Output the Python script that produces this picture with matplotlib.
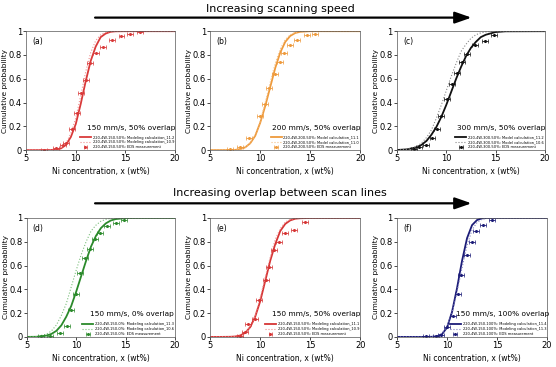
import matplotlib
matplotlib.use('Agg')
import matplotlib.pyplot as plt

# Common x grid for the modelled CDF curves (Ni wt%)
x_grid = [5, 6, 7, 7.5, 8, 8.5, 9, 9.5, 10, 10.5, 11, 11.5, 12, 12.5, 13, 13.5, 14, 15, 16, 20]

# Modelled curves (solid and dotted per panel)
a_solid = [0, 0, 0.0002, 0.001, 0.004, 0.014, 0.043, 0.11, 0.22, 0.39, 0.58, 0.75, 0.87, 0.95, 0.98, 0.995, 0.999, 1, 1, 1]
a_dot = [0, 0, 0.0003, 0.001, 0.005, 0.018, 0.055, 0.14, 0.27, 0.46, 0.66, 0.82, 0.92, 0.97, 0.99, 0.998, 1, 1, 1, 1]
b_solid = [0, 0, 0.0006, 0.002, 0.008, 0.023, 0.057, 0.12, 0.23, 0.37, 0.53, 0.69, 0.82, 0.91, 0.96, 0.985, 0.995, 1, 1, 1]
b_dot = [0, 0, 0.0005, 0.002, 0.007, 0.023, 0.06, 0.13, 0.24, 0.40, 0.57, 0.73, 0.85, 0.93, 0.97, 0.99, 0.997, 1, 1, 1]
c_solid = [0.001, 0.006, 0.024, 0.045, 0.078, 0.13, 0.195, 0.28, 0.38, 0.49, 0.60, 0.70, 0.79, 0.86, 0.91, 0.95, 0.97, 0.993, 0.999, 1]
c_dot = [0, 0.006, 0.03, 0.06, 0.106, 0.17, 0.27, 0.38, 0.5, 0.62, 0.73, 0.83, 0.89, 0.94, 0.97, 0.986, 0.994, 0.999, 1, 1]
d_solid = [0, 0.001, 0.011, 0.025, 0.051, 0.097, 0.17, 0.26, 0.38, 0.51, 0.64, 0.76, 0.85, 0.915, 0.955, 0.979, 0.991, 0.999, 1, 1]
d_dot = [0, 0.003, 0.023, 0.05, 0.10, 0.18, 0.28, 0.42, 0.56, 0.69, 0.80, 0.89, 0.94, 0.973, 0.989, 0.996, 0.999, 1, 1, 1]
e_solid = [0, 0, 0.001, 0.0035, 0.012, 0.034, 0.082, 0.17, 0.30, 0.47, 0.64, 0.78, 0.89, 0.95, 0.98, 0.994, 0.998, 1, 1, 1]
e_dot = [0, 0, 0.0005, 0.003, 0.012, 0.035, 0.087, 0.18, 0.33, 0.5, 0.67, 0.82, 0.91, 0.966, 0.988, 0.997, 1, 1, 1, 1]
f_solid = [0, 0, 0, 0, 0, 0.001, 0.005, 0.023, 0.079, 0.21, 0.41, 0.64, 0.83, 0.94, 0.983, 0.997, 1, 1, 1, 1]
f_dot = [0, 0, 0, 0, 0.0005, 0.002, 0.008, 0.029, 0.085, 0.20, 0.38, 0.58, 0.77, 0.90, 0.963, 0.99, 0.998, 1, 1, 1]

# EDS measurements
a_mx = [6.8, 8.0, 8.7, 9.0, 9.6, 10.1, 10.5, 11.0, 11.4, 12.0, 12.7, 13.6, 14.6, 15.5, 16.5]
a_my = [0.005, 0.015, 0.04, 0.06, 0.18, 0.31, 0.48, 0.59, 0.73, 0.82, 0.87, 0.93, 0.96, 0.98, 0.99]
b_mx = [7.0, 8.0, 8.9, 10.0, 10.5, 10.9, 11.5, 12.0, 12.4, 13.0, 13.7, 14.7, 15.5]
b_my = [0.01, 0.03, 0.10, 0.29, 0.39, 0.52, 0.64, 0.74, 0.82, 0.88, 0.93, 0.97, 0.98]
c_mx = [6.7, 7.2, 7.9, 8.6, 9.1, 9.5, 10.1, 10.6, 11.1, 11.6, 12.1, 12.9, 13.9, 14.8]
c_my = [0.01, 0.03, 0.04, 0.10, 0.18, 0.29, 0.43, 0.56, 0.65, 0.74, 0.81, 0.88, 0.92, 0.97]
d_mx = [6.4, 7.4, 8.4, 9.1, 9.5, 10.0, 10.4, 10.9, 11.4, 11.9, 12.4, 13.1, 14.0, 14.8]
d_my = [0.005, 0.01, 0.03, 0.09, 0.23, 0.36, 0.54, 0.66, 0.74, 0.82, 0.87, 0.93, 0.96, 0.98]
e_mx = [8.0, 8.5, 8.8, 9.5, 9.9, 10.6, 10.9, 11.4, 11.9, 12.5, 13.4, 14.5]
e_my = [0.01, 0.04, 0.11, 0.15, 0.31, 0.48, 0.59, 0.73, 0.80, 0.87, 0.90, 0.97]
f_mx = [7.9, 8.9, 9.4, 10.0, 10.6, 11.1, 11.4, 12.0, 12.5, 12.9, 13.6, 14.5]
f_my = [0.005, 0.01, 0.02, 0.08, 0.18, 0.36, 0.52, 0.69, 0.80, 0.89, 0.94, 0.98]

panel_tags = ['(a)', '(b)', '(c)', '(d)', '(e)', '(f)']
conditions = ['150 mm/s, 50% overlap', '200 mm/s, 50% overlap', '300 mm/s, 50% overlap',
              '150 mm/s, 0% overlap', '150 mm/s, 50% overlap', '150 mm/s, 100% overlap']
legend_labels = [
    ['220-4W-150-50%: Modeling calculation_11.2', '220-4W-150-50%: Modeling calculation_10.9', '220-4W-150-50%: EDS measurement'],
    ['220-4W-200-50%: Model calculation_11.1', '220-4W-200-50%: Model calculation_11.0', '220-4W-200-50%: EDS measurement'],
    ['220-4W-300-50%: Model calculation_11.2', '220-4W-300-50%: Model calculation_10.6', '220-4W-300-50%: EDS measurement'],
    ['220-4W-150-0%: Modeling calculation_11.3', '220-4W-150-0%: Modeling calculation_10.6', '220-4W-150-0%: EDS measurement'],
    ['220-4W-150-50%: Modeling calculation_11.1', '220-4W-150-50%: Modeling calculation_10.9', '220-4W-150-50%: EDS measurement'],
    ['220-4W-150-100%: Modeling calculation_11.4', '220-4W-150-100%: Modeling calculation_11.3', '220-4W-150-100%: EDS measurement'],
]
solid_colors = ['#d93a3a', '#ee9a3c', '#111111', '#2b8a2b', '#d63535', '#1c1c78']
dot_colors = ['#f09090', '#f4c088', '#888888', '#7cbf7c', '#ef8f8f', '#8080c0']

solids = [a_solid, b_solid, c_solid, d_solid, e_solid, f_solid]
dots = [a_dot, b_dot, c_dot, d_dot, e_dot, f_dot]
meas_x = [a_mx, b_mx, c_mx, d_mx, e_mx, f_mx]
meas_y = [a_my, b_my, c_my, d_my, e_my, f_my]

# axes rectangles in figure fractions (left, bottom, width, height)
rects = [(0.047, 0.591, 0.268, 0.324), (0.378, 0.591, 0.270, 0.324), (0.714, 0.591, 0.266, 0.324),
         (0.048, 0.082, 0.267, 0.324), (0.378, 0.082, 0.270, 0.324), (0.714, 0.082, 0.270, 0.324)]

fig = plt.figure(figsize=(5.56, 3.67), dpi=100)

for i in range(6):
    ax = fig.add_axes(rects[i])
    ax.plot(x_grid, solids[i], color=solid_colors[i], lw=1.3, label=legend_labels[i][0])
    ax.plot(x_grid, dots[i], color=dot_colors[i], lw=0.8, ls=':', label=legend_labels[i][1])
    ax.errorbar(meas_x[i], meas_y[i], xerr=0.3, fmt='o', ms=1.2, color=solid_colors[i],
                ecolor=solid_colors[i], elinewidth=0.6, capsize=1.2, capthick=0.5,
                label=legend_labels[i][2])
    ax.set_xlim(5, 20)
    ax.set_ylim(0, 1)
    ax.set_xticks([5, 10, 15, 20])
    ax.set_yticks([0, 0.2, 0.4, 0.6, 0.8, 1])
    ax.set_yticklabels(['0', '0.2', '0.4', '0.6', '0.8', '1'])
    ax.tick_params(labelsize=6, length=2, width=0.5, pad=1)
    for s in ax.spines.values():
        s.set_linewidth(0.5)
        s.set_color('#555555')
    ax.set_xlabel('Ni concentration, x (wt%)', fontsize=5.5, labelpad=3)
    ax.set_ylabel('Cumulative probability', fontsize=5.3)
    ax.yaxis.set_label_coords(-0.12, 0.5)
    ax.text(5.6, 0.95, panel_tags[i], fontsize=5.5, va='top', ha='left')
    ax.text(15.6, 0.19, conditions[i], fontsize=5.3, ha='center', va='center')
    ax.legend(loc='lower right', fontsize=2.6, frameon=False, handlelength=3,
              borderaxespad=0.2, labelspacing=0.2, borderpad=0.1, handletextpad=0.5)

# Trend arrows and headings
fig.text(0.504, 0.975, 'Increasing scanning speed', fontsize=8, ha='center', va='center')
fig.text(0.504, 0.474, 'Increasing overlap between scan lines', fontsize=8, ha='center', va='center')
for yy in [0.952, 0.446]:
    fig.add_artist(matplotlib.patches.FancyArrowPatch((0.171, yy), (0.848, yy), transform=fig.transFigure,
                                                      arrowstyle='-|>,head_length=10,head_width=3.5',
                                                      lw=1.6, color='black', shrinkA=0, shrinkB=0))

fig.savefig('out.png', dpi=100)
